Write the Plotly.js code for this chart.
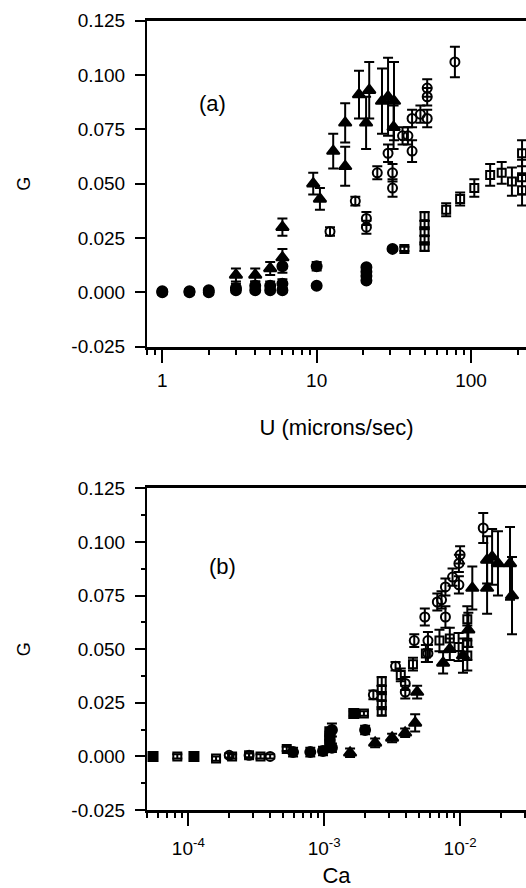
<!DOCTYPE html>
<html>
<head>
<meta charset="utf-8">
<script src="https://cdn.plot.ly/plotly-3.0.1.min.js"></script>
<style>html,body{margin:0;padding:0;background:#fff;}#chart{width:526px;height:888px;}</style>
</head>
<body>
<div id="chart"></div>
<script>
// ---------- Panel (a): G vs U (microns/sec) ----------
const triU   = [3, 4, 5, 6, 6, 9.5, 10.5, 12.8, 15.3, 15.3, 18.8, 20.9, 21.9, 26.5, 29, 31.7, 31.5];
const triG   = [0.008, 0.008, 0.011, 0.016, 0.030, 0.050, 0.043, 0.065, 0.078, 0.058, 0.091, 0.078, 0.093, 0.088, 0.090, 0.088, 0.076];
const triErr = [0.003, 0.003, 0.003, 0.004, 0.004, 0.005, 0.005, 0.008, 0.009, 0.009, 0.011, 0.012, 0.013, 0.015, 0.018, 0.018, 0.010];

const circU   = [12.2, 17.8, 21, 21, 24.7, 29, 31, 31, 36, 39, 41.5, 41.5, 47, 52, 52, 52, 78.6];
const circG   = [0.028, 0.042, 0.034, 0.030, 0.055, 0.064, 0.055, 0.048, 0.072, 0.072, 0.080, 0.065, 0.082, 0.090, 0.080, 0.094, 0.106];
const circErr = [0.002, 0.002, 0.003, 0.003, 0.003, 0.004, 0.004, 0.004, 0.004, 0.004, 0.004, 0.005, 0.004, 0.004, 0.004, 0.004, 0.007];

const circDenseU   = [1, 1.5, 2, 3, 4, 5, 6, 6, 10];
const circDenseG   = [0.0005, 0.0005, 0.001, 0.002, 0.003, 0.003, 0.004, 0.012, 0.012];
const circDenseErr = [0.001, 0.001, 0.001, 0.002, 0.002, 0.002, 0.002, 0.003, 0.002];

const sqU   = [37, 50, 50, 50, 50, 50, 69, 85, 105, 133, 158, 184, 214, 214, 214];
const sqG   = [0.020, 0.035, 0.031, 0.028, 0.024, 0.021, 0.038, 0.043, 0.048, 0.054, 0.055, 0.051, 0.064, 0.053, 0.047];
const sqErr = [0.001, 0.002, 0.002, 0.002, 0.002, 0.002, 0.003, 0.003, 0.004, 0.005, 0.005, 0.0065, 0.006, 0.008, 0.007];

const sqDenseU   = [1, 1.5, 2, 3, 4, 5, 6, 10, 21, 21, 21, 21, 31];
const sqDenseG   = [0, 0, 0, 0.001, 0.001, 0.001, 0.001, 0.003, 0.0115, 0.0095, 0.0075, 0.0055, 0.020];
const sqDenseErr = [0.001, 0.001, 0.001, 0.001, 0.001, 0.001, 0.001, 0.001, 0.001, 0.001, 0.001, 0.001, 0.001];

// ---------- Panel (b): G vs Ca ----------
const triCa    = [1.55e-3, 2.37e-3, 3.16e-3, 3.94e-3, 4.67e-3, 4.83e-3, 7.5e-3, 8.4e-3, 1.05e-2, 1.15e-2, 1.23e-2, 1.58e-2, 1.58e-2, 1.72e-2, 1.9e-2, 2.33e-2, 2.41e-2];
const triGb    = [0.0017, 0.0063, 0.0086, 0.011, 0.0156, 0.030, 0.0436, 0.050, 0.047, 0.059, 0.0785, 0.0916, 0.0785, 0.093, 0.090, 0.090, 0.075];
const triErrB  = [0.002, 0.002, 0.002, 0.002, 0.004, 0.003, 0.005, 0.005, 0.008, 0.008, 0.010, 0.011, 0.012, 0.013, 0.015, 0.017, 0.018];

const circCa   = [2.0e-4, 2.8e-4, 4.0e-4, 2.3e-3, 3.35e-3, 3.95e-3, 3.95e-3, 4.6e-3, 5.5e-3, 5.8e-3, 5.8e-3, 6.8e-3, 7.3e-3, 7.8e-3, 7.8e-3, 8.8e-3, 9.8e-3, 9.8e-3, 1.0e-2, 1.48e-2];
const circGb   = [0.0005, 0.0005, 0.0, 0.0287, 0.042, 0.034, 0.030, 0.054, 0.065, 0.054, 0.048, 0.072, 0.073, 0.079, 0.065, 0.0836, 0.090, 0.080, 0.094, 0.1065];
const circErrB = [0.001, 0.001, 0.001, 0.002, 0.002, 0.003, 0.003, 0.003, 0.004, 0.004, 0.004, 0.004, 0.004, 0.004, 0.005, 0.004, 0.004, 0.004, 0.004, 0.007];

const circDenseCa   = [5.9e-4, 7.9e-4, 9.8e-4, 1.14e-3, 1.14e-3, 2.0e-3];
const circDenseGb   = [0.002, 0.002, 0.0025, 0.004, 0.0123, 0.0123];
const circDenseErrB = [0.002, 0.002, 0.002, 0.002, 0.003, 0.002];

const sqCa   = [8.3e-5, 1.6e-4, 2.1e-4, 2.8e-4, 3.4e-4, 5.3e-4, 1.96e-3, 2.65e-3, 2.65e-3, 2.65e-3, 2.65e-3, 2.65e-3, 3.66e-3, 4.5e-3, 5.6e-3, 7.05e-3, 8.4e-3, 9.75e-3, 1.13e-2, 1.13e-2, 1.13e-2];
const sqGb   = [0, -0.001, 0, 0.0005, 0, 0.0035, 0.020, 0.035, 0.031, 0.028, 0.024, 0.021, 0.038, 0.043, 0.048, 0.054, 0.055, 0.051, 0.064, 0.053, 0.047];
const sqErrB = [0.001, 0.001, 0.001, 0.001, 0.001, 0.001, 0.001, 0.002, 0.002, 0.002, 0.002, 0.002, 0.003, 0.003, 0.004, 0.005, 0.005, 0.0065, 0.006, 0.008, 0.007];

const sqDenseCa   = [5.5e-5, 1.1e-4, 1.1e-3, 1.1e-3, 1.1e-3, 1.1e-3, 1.65e-3];
const sqDenseGb   = [0, 0, 0.0115, 0.0095, 0.0075, 0.0055, 0.020];
const sqDenseErrB = [0.001, 0.001, 0.001, 0.001, 0.001, 0.001, 0.001];

// ---------- Tick definitions ----------
const gTicks = [-0.025, 0, 0.025, 0.05, 0.075, 0.1, 0.125];
const gTickText = ['-0.025', '0.000', '0.025', '0.050', '0.075', '0.100', '0.125'];
const gMinor = [-0.0125, 0.0125, 0.0375, 0.0625, 0.0875, 0.1125];
const uTicks = [1, 10, 100];
const uTickText = ['1', '10', '100'];
const uMinor = [0.8, 0.9, 2, 3, 4, 5, 6, 7, 8, 9, 20, 30, 40, 50, 60, 70, 80, 90, 200];
const caTicks = [1e-4, 1e-3, 1e-2];
const caTickText = ['10<sup>-4</sup>', '10<sup>-3</sup>', '10<sup>-2</sup>'];
const caMinor = [5e-5, 6e-5, 7e-5, 8e-5, 9e-5, 2e-4, 3e-4, 4e-4, 5e-4, 6e-4, 7e-4, 8e-4, 9e-4, 2e-3, 3e-3, 4e-3, 5e-3, 6e-3, 7e-3, 8e-3, 9e-3, 2e-2, 3e-2];

const FONT = 'Liberation Sans, Arial, Helvetica, sans-serif';
const U_RANGE = [-0.099, 2.356];
const CA_RANGE = [-4.304, -1.515];
const G_RANGE = [-0.025, 0.125];

function series(x, y, err, symbol, size, xa, ya) {
  return {
    x: x, y: y, xaxis: xa, yaxis: ya,
    type: 'scatter', mode: 'markers', cliponaxis: true, hoverinfo: 'skip',
    marker: {symbol: symbol, size: size, color: 'black', line: {color: 'black', width: 2}},
    error_y: {type: 'data', array: err, visible: true, color: 'black', thickness: 2, width: 5}
  };
}
function empty(xa, ya) {
  return {x: [], y: [], xaxis: xa, yaxis: ya, type: 'scatter', mode: 'markers', hoverinfo: 'skip', showlegend: false};
}

const data = [
  series(circDenseU, circDenseG, circDenseErr, 'circle', 10, 'x', 'y'),
  series(sqDenseU, sqDenseG, sqDenseErr, 'circle', 10, 'x', 'y'),
  series(sqU, sqG, sqErr, 'square-open', 8, 'x', 'y'),
  series(circU, circG, circErr, 'circle-open', 9, 'x', 'y'),
  series(triU, triG, triErr, 'triangle-up', 11, 'x', 'y'),

  series(sqDenseCa, sqDenseGb, sqDenseErrB, 'square', 9, 'x2', 'y2'),
  series(circDenseCa, circDenseGb, circDenseErrB, 'circle', 10, 'x2', 'y2'),
  series(sqCa, sqGb, sqErrB, 'square-open', 8, 'x2', 'y2'),
  series(circCa, circGb, circErrB, 'circle-open', 9, 'x2', 'y2'),
  series(triCa, triGb, triErrB, 'triangle-up', 11, 'x2', 'y2'),

  empty('x3', 'y'), empty('x4', 'y2'), empty('x2', 'y3')
];

function xAxis(range, tv, tt, anchor, title, standoff, labelGap) {
  return {
    type: 'log', range: range, anchor: anchor, domain: [0, 1],
    tickmode: 'array', tickvals: tv, ticktext: tt,
    ticks: 'outside', ticklen: 13, tickwidth: 2, tickcolor: 'black',
    ticklabelstandoff: labelGap,
    showline: true, linewidth: 3, linecolor: 'black', mirror: true,
    showgrid: false, zeroline: false, automargin: false,
    tickfont: {family: FONT, size: 19, color: 'black'},
    title: {text: title, font: {family: FONT, size: 22, color: 'black'}, standoff: standoff}
  };
}
function xMinor(range, tv, over, anchor) {
  return {
    type: 'log', range: range, overlaying: over, anchor: anchor, side: 'bottom',
    tickmode: 'array', tickvals: tv, showticklabels: false,
    ticks: 'outside', ticklen: 7, tickwidth: 2, tickcolor: 'black',
    showline: false, showgrid: false, zeroline: false, automargin: false
  };
}
function yAxis(domain, anchor) {
  return {
    range: G_RANGE, domain: domain, anchor: anchor,
    tickmode: 'array', tickvals: gTicks, ticktext: gTickText,
    ticks: 'outside', ticklen: 10, tickwidth: 2, tickcolor: 'black',
    ticklabelstandoff: 6,
    showline: true, linewidth: 2, linecolor: 'black', mirror: false,
    showgrid: false, zeroline: false, automargin: false,
    tickfont: {family: FONT, size: 19, color: 'black'},
    title: {text: 'G', font: {family: FONT, size: 18, color: 'black'}, standoff: 36}
  };
}

const layout = {
  width: 526, height: 888,
  margin: {l: 147, r: 0, t: 0, b: 0},
  paper_bgcolor: 'white', plot_bgcolor: 'white',
  showlegend: false,
  font: {family: FONT, color: 'black'},
  xaxis: xAxis(U_RANGE, uTicks, uTickText, 'y', 'U (microns/sec)', 30, 2),
  yaxis: yAxis([0.6096, 0.9767], 'x'),
  xaxis2: xAxis(CA_RANGE, caTicks, caTickText, 'y2', 'Ca', 12, 6),
  yaxis2: yAxis([0.0878, 0.4501], 'x2'),
  xaxis3: xMinor(U_RANGE, uMinor, 'x', 'y'),
  xaxis4: xMinor(CA_RANGE, caMinor, 'x2', 'y2'),
  yaxis3: {
    range: G_RANGE, overlaying: 'y2', anchor: 'x2', side: 'left',
    tickmode: 'array', tickvals: gMinor, showticklabels: false,
    ticks: 'outside', ticklen: 5, tickwidth: 2, tickcolor: 'black',
    showline: false, showgrid: false, zeroline: false, automargin: false
  },
  annotations: [
    {text: '(a)', xref: 'paper', yref: 'paper', x: 0.174, y: 0.883, showarrow: false,
     xanchor: 'center', yanchor: 'middle', font: {family: FONT, size: 22, color: 'black'}},
    {text: '(b)', xref: 'paper', yref: 'paper', x: 0.198, y: 0.3615, showarrow: false,
     xanchor: 'center', yanchor: 'middle', font: {family: FONT, size: 22, color: 'black'}}
  ]
};

Plotly.newPlot('chart', data, layout, {staticPlot: true, displayModeBar: false});
</script>
</body>
</html>
